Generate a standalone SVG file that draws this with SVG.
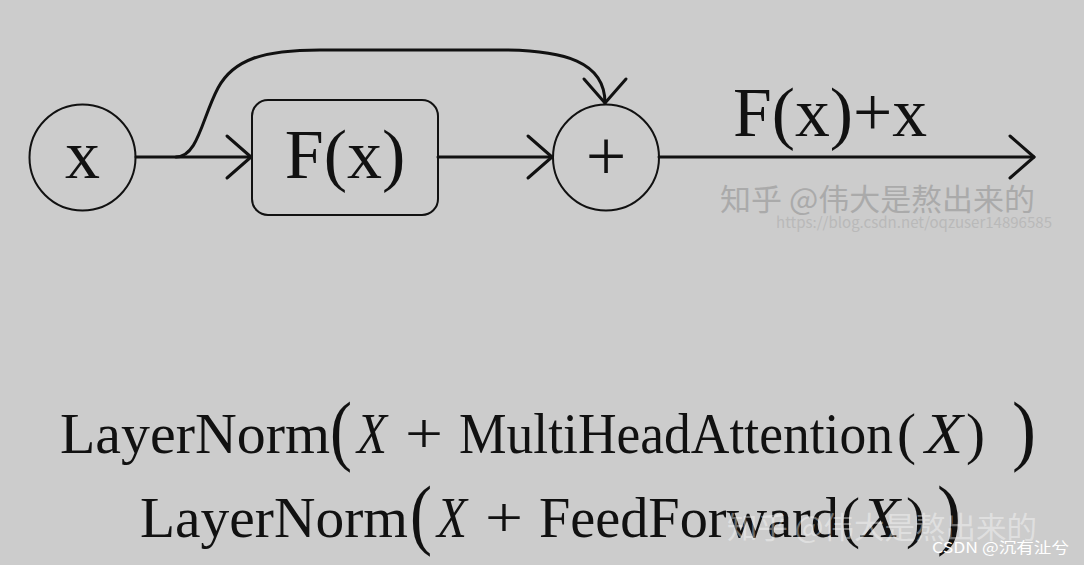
<svg xmlns="http://www.w3.org/2000/svg" width="1084" height="565" viewBox="0 0 1084 565">
<style>
.shape{fill:none;stroke:#111;stroke-width:2}
.conn{fill:none;stroke:#111;stroke-width:3;stroke-linecap:round}
.lbl{font-family:"Liberation Serif","Times New Roman",serif;fill:#111}
.math{font-family:"Liberation Serif","Times New Roman",serif;fill:#111;font-size:57px}
.big{font-family:"Liberation Serif","Times New Roman",serif;fill:#111;font-size:78px}
.it{font-style:italic}
.wm{font-family:"Noto Sans CJK SC","Liberation Sans",sans-serif}
</style>
<defs>
<marker id="chev" viewBox="-30 -26 34 52" refX="0" refY="0" markerWidth="34" markerHeight="52" markerUnits="userSpaceOnUse" orient="auto" overflow="visible">
<path d="M-24,-21 L0,0 L-24,21" fill="none" stroke="#111" stroke-width="3" stroke-linejoin="round" stroke-linecap="round"/>
</marker>
</defs>
<rect width="1084" height="565" fill="#cccccc"/>
<g id="connectors">
<path class="conn" d="M136,157 L251,157" marker-end="url(#chev)"/>
<path class="conn" d="M438,157 L552,157" marker-end="url(#chev)"/>
<path class="conn" d="M659,157 L1034,157" marker-end="url(#chev)"/>
<path class="conn" d="M176,157 C198,157 202,118 218,88 C233,60 262,50 320,50 L500,50 C565,50 605,62 605,103" marker-end="url(#chev)"/>
</g>
<g id="node-x">
<circle class="shape" cx="82.5" cy="157.5" r="53"/>
<text class="lbl" x="82.5" y="178" font-size="70" text-anchor="middle">x</text>
</g>
<g id="node-fx">
<rect class="shape" x="252" y="100" width="186" height="115" rx="16"/>
<text class="lbl" x="345" y="178" font-size="70" text-anchor="middle">F(x)</text>
</g>
<g id="node-plus">
<circle class="shape" cx="606" cy="157.5" r="53"/>
<text class="lbl" x="606" y="180" font-size="72" text-anchor="middle">+</text>
</g>
<g id="label-out">
<text class="lbl" x="733" y="136" font-size="70" textLength="194" lengthAdjust="spacingAndGlyphs">F(x)+x</text>
</g>
<g id="formula-1">
<text class="math" x="60" y="453" textLength="270" lengthAdjust="spacingAndGlyphs">LayerNorm</text>
<text class="big" x="330" y="456" textLength="22" lengthAdjust="spacingAndGlyphs">(</text>
<text class="math it" x="357" y="453" textLength="30" lengthAdjust="spacingAndGlyphs">X</text>
<text class="math" x="405" y="453" textLength="38" lengthAdjust="spacingAndGlyphs">+</text>
<text class="math" x="459" y="453" textLength="434" lengthAdjust="spacingAndGlyphs">MultiHeadAttention</text>
<text class="math" x="897" y="453" textLength="19" lengthAdjust="spacingAndGlyphs">(</text>
<text class="math it" x="925" y="453" textLength="38" lengthAdjust="spacingAndGlyphs">X</text>
<text class="math" x="966" y="453" textLength="19" lengthAdjust="spacingAndGlyphs">)</text>
<text class="big" x="1012" y="456" textLength="24" lengthAdjust="spacingAndGlyphs">)</text>
</g>
<g id="formula-2">
<text class="math" x="140" y="537" textLength="268" lengthAdjust="spacingAndGlyphs">LayerNorm</text>
<text class="big" x="410" y="540" textLength="22" lengthAdjust="spacingAndGlyphs">(</text>
<text class="math it" x="437" y="537" textLength="30" lengthAdjust="spacingAndGlyphs">X</text>
<text class="math" x="485" y="537" textLength="38" lengthAdjust="spacingAndGlyphs">+</text>
<text class="math" x="539" y="537" textLength="300" lengthAdjust="spacingAndGlyphs">FeedForward</text>
<text class="math" x="841" y="537" textLength="19" lengthAdjust="spacingAndGlyphs">(</text>
<text class="math it" x="862" y="537" textLength="38" lengthAdjust="spacingAndGlyphs">X</text>
<text class="math" x="906" y="537" textLength="19" lengthAdjust="spacingAndGlyphs">)</text>
<text class="big" x="937" y="540" textLength="24" lengthAdjust="spacingAndGlyphs">)</text>
</g>
<g id="watermarks">
<text class="wm" x="720" y="210" font-size="30" fill="#aaaaaa" textLength="315" lengthAdjust="spacingAndGlyphs">知乎 @伟大是熬出来的</text>
<text class="wm" x="776" y="228" font-family="Liberation Sans, sans-serif" font-size="15" fill="#b9b9b9" textLength="276" lengthAdjust="spacingAndGlyphs">https://blog.csdn.net/oqzuser14896585</text>
<text class="wm" x="727" y="538" font-size="30" fill="#ffffff" fill-opacity="0.4" textLength="310" lengthAdjust="spacingAndGlyphs">知乎 @伟大是熬出来的</text>
<text class="wm" x="932" y="553" font-size="15" fill="#ffffff" textLength="137" lengthAdjust="spacingAndGlyphs">CSDN @沉有沚兮</text>
</g>
</svg>
